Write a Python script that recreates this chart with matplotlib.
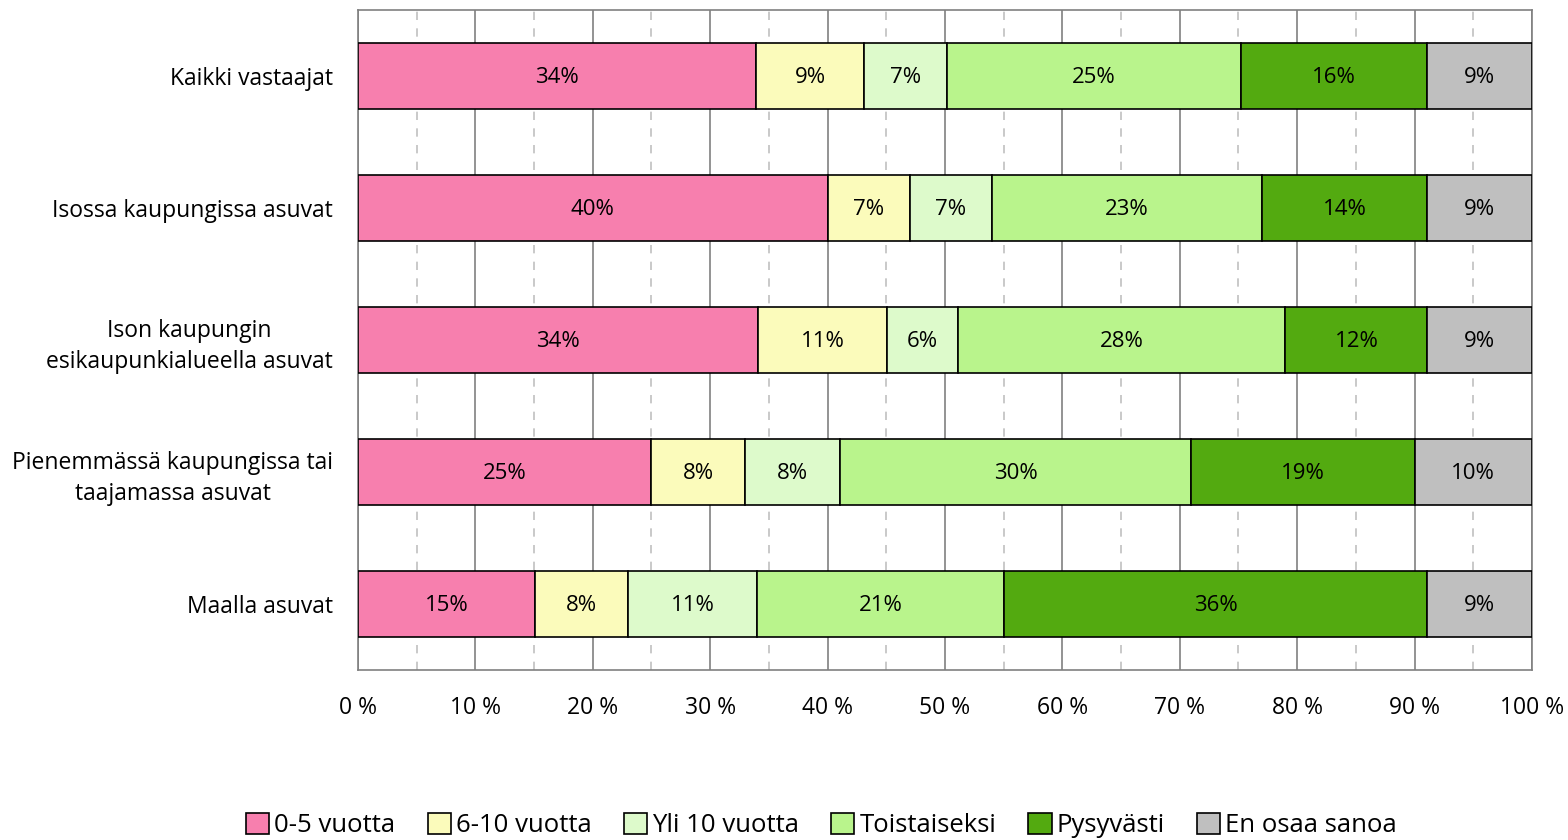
import numpy as np
import matplotlib
matplotlib.use('Agg')
from matplotlib import pyplot as plt
from matplotlib.ticker import MultipleLocator, FuncFormatter

plt.rcParams['font.family'] = ['Open Sans', 'DejaVu Sans']

# ryhmät (ylhäältä alas)
groups = ['Kaikki vastaajat', 'Isossa kaupungissa asuvat',
          'Ison kaupungin\nesikaupunkialueella asuvat',
          'Pienemmässä kaupungissa tai\ntaajamassa asuvat', 'Maalla asuvat']
series = ['0-5 vuotta', '6-10 vuotta', 'Yli 10 vuotta', 'Toistaiseksi', 'Pysyvästi', 'En osaa sanoa']
colors = ['#f77fae', '#fbfbbb', '#ddfacb', '#b9f48c', '#53aa10', '#bfbfbf']

v_0_5 = [33.9, 40.0, 34.1, 25.0, 15.1]
v_6_10 = [9.2, 7.0, 11.0, 8.0, 7.9]
v_yli10 = [7.1, 7.0, 6.0, 8.1, 11.0]
v_toist = [25.0, 23.0, 27.9, 29.9, 21.0]
v_pysyv = [15.9, 14.1, 12.1, 19.0, 36.1]
v_eos = [8.9, 8.9, 8.9, 10.0, 8.9]
values = [v_0_5, v_6_10, v_yli10, v_toist, v_pysyv, v_eos]

fig = plt.figure(figsize=(15.68, 8.4), dpi=100)
ax = fig.add_axes([0.2283, 0.2024, 0.7487, 0.7857])

y = np.arange(len(groups))
left = np.zeros(len(groups))
handles = []
for name, vals, c in zip(series, values, colors):
    vals = np.array(vals)
    b = ax.barh(y, vals, left=left, height=0.5, color=c, edgecolor='black', linewidth=1.2, label=name, zorder=3)
    handles.append(b)
    for yi, l, v in zip(y, left, vals):
        ax.text(l + v / 2, yi + 0.01, '%d%%' % round(v), ha='center', va='center', fontsize=16, zorder=4)
    left = left + vals

ax.set_xlim(0, 100)
ax.set_ylim(len(groups) - 0.5, -0.5)
ax.set_yticks(y)
ax.set_yticklabels(groups, fontsize=16.5, multialignment='center', linespacing=1.4)
ax.xaxis.set_major_locator(MultipleLocator(10))
ax.xaxis.set_minor_locator(MultipleLocator(5))
ax.xaxis.set_major_formatter(FuncFormatter(lambda v, p: '%d %%' % v))
ax.tick_params(axis='x', labelsize=16.5, length=0, pad=19, which='both')
ax.tick_params(axis='y', length=0, pad=18)
ax.grid(axis='x', which='major', color='#808080', linewidth=1.2, zorder=0)
ax.grid(axis='x', which='minor', color='#c0c0c0', linewidth=1.2, linestyle=(0, (5, 5)), zorder=0)
for s in ax.spines.values():
    s.set_color('#808080')
    s.set_linewidth(1.2)

fig.legend(handles=handles, loc='center', bbox_to_anchor=(0.524, 0.017), ncol=6, frameon=False,
           fontsize=18.5, handlelength=0.9, handleheight=0.9, handletextpad=0.2, columnspacing=1.25)

fig.savefig('out.png', dpi=100)
